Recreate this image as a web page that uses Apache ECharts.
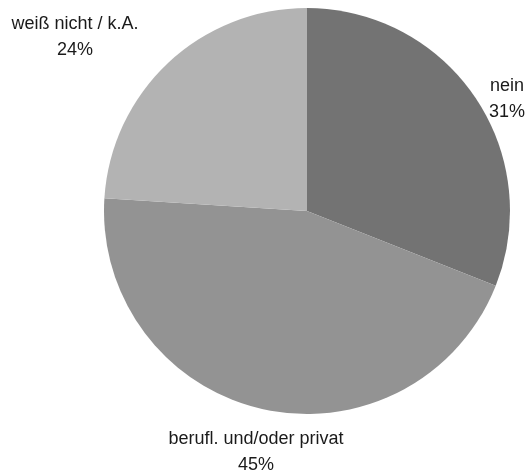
<!DOCTYPE html>
<html>
<head>
<meta charset="utf-8">
<script src="https://cdn.jsdelivr.net/npm/echarts@6/dist/echarts.min.js"></script>
<style>
  html, body { margin: 0; padding: 0; background: #ffffff; }
  #chart { width: 529px; height: 470px; }
</style>
</head>
<body>
<div id="chart"></div>
<script>
// Answer categories and their shares (percent)
const categories = ['nein', 'berufl. und/oder privat', 'weiß nicht / k.A.'];
const shares = [31, 45, 24];
const sliceColors = ['#737373', '#939393', '#b3b3b3'];

// Label anchor points (centre of the two-line label block)
const labelAnchors = [
  { x: 507, y: 99 },
  { x: 256, y: 452 },
  { x: 75, y: 37 }
];

const chart = echarts.init(document.getElementById('chart'), null, { renderer: 'canvas' });

chart.setOption({
  animation: false,
  backgroundColor: '#ffffff',
  series: [{
    type: 'pie',
    center: [307, 211],
    radius: [0, 203],
    startAngle: 90,
    clockwise: true,
    avoidLabelOverlap: false,
    data: categories.map((name, i) => ({
      name: name,
      value: shares[i],
      itemStyle: { color: sliceColors[i] }
    })),
    itemStyle: { borderWidth: 0 },
    label: {
      show: true,
      position: 'outside',
      formatter: p => p.name + '\n' + p.value + '%',
      fontFamily: 'Liberation Sans, Arial, sans-serif',
      fontSize: 18,
      lineHeight: 26,
      color: '#1a1a1a',
      align: 'center'
    },
    labelLine: { show: false },
    labelLayout: params => ({
      x: labelAnchors[params.dataIndex].x,
      y: labelAnchors[params.dataIndex].y,
      align: 'center',
      verticalAlign: 'middle'
    }),
    emphasis: { disabled: true }
  }]
});
</script>
</body>
</html>
